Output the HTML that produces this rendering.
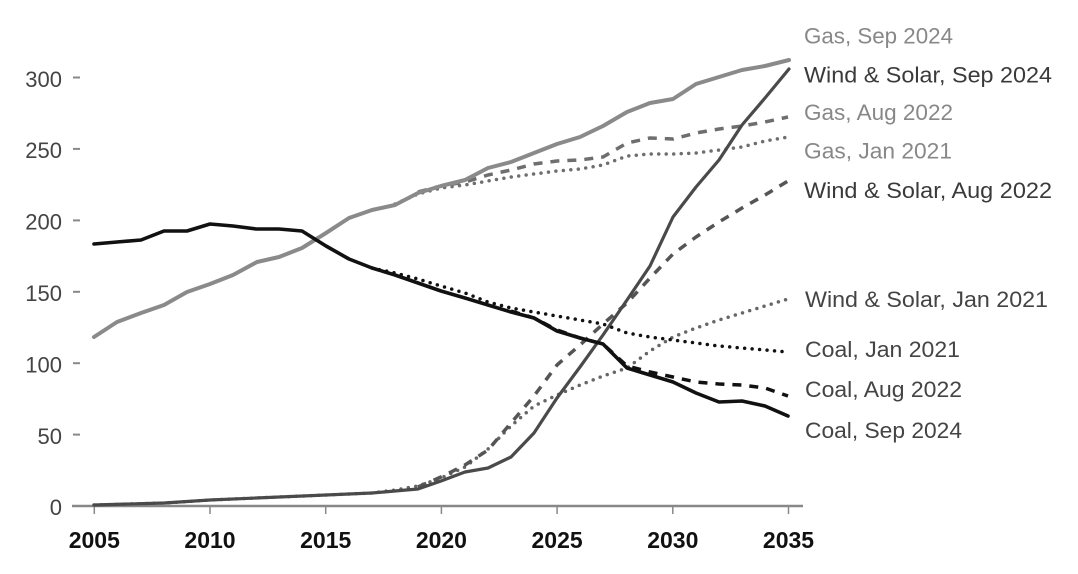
<!DOCTYPE html>
<html>
<head>
<meta charset="utf-8">
<style>
html,body{margin:0;padding:0;background:#fff;}
svg{display:block;}
text{font-family:"Liberation Sans",sans-serif;}
</style>
</head>
<body>
<svg width="1078" height="574" viewBox="0 0 1078 574" xmlns="http://www.w3.org/2000/svg">
<rect width="1078" height="574" fill="#fff"/>

<!-- y ticks and labels -->
<g stroke="#888" stroke-width="2">
<line x1="73" y1="77.5" x2="80" y2="77.5"/>
<line x1="73" y1="148.9" x2="80" y2="148.9"/>
<line x1="73" y1="220.4" x2="80" y2="220.4"/>
<line x1="73" y1="291.8" x2="80" y2="291.8"/>
<line x1="73" y1="363.2" x2="80" y2="363.2"/>
<line x1="73" y1="434.6" x2="80" y2="434.6"/>
</g>
<g fill="#444" font-size="22" text-anchor="end">
<text x="62" y="87">300</text>
<text x="62" y="158">250</text>
<text x="62" y="229.5">200</text>
<text x="62" y="301">150</text>
<text x="62" y="372.5">100</text>
<text x="62" y="444">50</text>
<text x="62" y="515">0</text>
</g>

<!-- x axis -->
<line x1="72" y1="506" x2="803" y2="506" stroke="#888" stroke-width="2.5"/>
<g stroke="#888" stroke-width="1.5">
<line x1="94.3" y1="506" x2="94.3" y2="514"/>
<line x1="210" y1="506" x2="210" y2="514"/>
<line x1="325.7" y1="506" x2="325.7" y2="514"/>
<line x1="441.4" y1="506" x2="441.4" y2="514"/>
<line x1="557.1" y1="506" x2="557.1" y2="514"/>
<line x1="672.8" y1="506" x2="672.8" y2="514"/>
<line x1="788.5" y1="506" x2="788.5" y2="514"/>
</g>
<g fill="#111" font-size="23" font-weight="bold" text-anchor="middle">
<text x="94.3" y="548">2005</text>
<text x="210" y="548">2010</text>
<text x="325.7" y="548">2015</text>
<text x="441.4" y="548">2020</text>
<text x="557.1" y="548">2025</text>
<text x="672.8" y="548">2030</text>
<text x="788.5" y="548">2035</text>
</g>

<g fill="none" stroke-linejoin="round">
<!-- Gas Jan 2021 dotted -->
<polyline stroke="#6e6e6e" stroke-width="3.5" stroke-linecap="round" stroke-dasharray="0 7.5"
points="395,204 418,194 441,188 465,185 488,181 511,177 534,174 557,171 580,169 603,165 627,156 650,154 673,154 696,153 719,150 742,147 765,141 788,137"/>
<!-- Gas Aug 2022 dashed -->
<polyline stroke="#6e6e6e" stroke-width="3.5" stroke-dasharray="9 8"
points="418,192 441,186 465,182 488,175 511,170 534,164 557,161 580,160 603,157 627,143 650,138 673,139 696,133 719,129 742,126 765,122 788,117"/>
<!-- Gas Sep 2024 solid -->
<polyline stroke="#8a8a8a" stroke-width="4" stroke-linecap="round"
points="94,337 117,322 141,313 164,305 187,292 210,284 233,275 257,262 279,257 302,248 326,233 349,218 372,210 395,205 418,193 441,186 465,180 488,168 511,162 534,153 557,144 580,137 603,126 627,112 650,103 673,99 696,84 719,77 742,70 765,66 789,60"/>

<!-- Wind & Solar Jan 2021 dotted -->
<polyline stroke="#666" stroke-width="3.5" stroke-linecap="round" stroke-dasharray="0 7.5"
points="94,505 164,503 210,500 256,498 326,495 372,493 395,490 418,486 441,478 465,467 488,449 511,426 534,406 557,395 580,385 603,376 627,368 650,351 673,337 696,328 719,320 742,313 765,306 788,299"/>
<!-- Wind & Solar Aug 2022 dashed -->
<polyline stroke="#555" stroke-width="3.5" stroke-dasharray="9 8"
points="418,487 441,477 465,465 488,450 511,423 534,396 557,365 580,345 603,324 627,303 650,278 673,254 696,237 719,222 742,208 765,195 788,181"/>
<!-- Wind & Solar Sep 2024 solid -->
<polyline stroke="#4a4a4a" stroke-width="3.2" stroke-linecap="round"
points="94,505 164,503 210,500 256,498 326,495 372,493 395,491 418,489 441,481 465,472 488,468 511,457 534,433 557,398 580,367 603,335 627,300 650,266 673,217 696,187 719,160 742,125 765,98 789,69"/>

<!-- Coal Jan 2021 dotted -->
<polyline stroke="#111" stroke-width="3.5" stroke-linecap="round" stroke-dasharray="0 7.5"
points="372,268 395,273 418,279 441,286 465,293 488,302 511,308 534,312 557,316 580,320 603,324 627,333 650,337 673,340 696,343 719,346 742,348 765,350 788,352"/>
<!-- Coal Aug 2022 dashed -->
<polyline stroke="#111" stroke-width="3.5" stroke-dasharray="9 8"
points="511,311 534,318 557,330 580,338 603,344 627,366 650,372 673,377 696,382 719,384 742,385 765,388 788,396"/>
<!-- Coal Sep 2024 solid -->
<polyline stroke="#111" stroke-width="3.6" stroke-linecap="round"
points="94,244 117,242 141,240 164,231 187,231 210,224 233,226 256,229 279,229 302,231 326,246 349,259 372,268 395,275 418,283 441,291 465,298 488,305 511,312 534,318 557,331 580,338 603,344 627,368 650,375 673,382 696,393 719,402 742,401 765,406 788,416"/>
</g>

<!-- series labels -->
<g font-size="22">
<text x="804" y="43.5" fill="#888" textLength="149" lengthAdjust="spacingAndGlyphs">Gas, Sep 2024</text>
<text x="804" y="82.5" fill="#3a3a3a" textLength="248" lengthAdjust="spacingAndGlyphs">Wind &amp; Solar, Sep 2024</text>
<text x="804" y="120" fill="#888" textLength="149" lengthAdjust="spacingAndGlyphs">Gas, Aug 2022</text>
<text x="804" y="158.3" fill="#888" textLength="148" lengthAdjust="spacingAndGlyphs">Gas, Jan 2021</text>
<text x="804" y="198" fill="#3a3a3a" textLength="248" lengthAdjust="spacingAndGlyphs">Wind &amp; Solar, Aug 2022</text>
<text x="805" y="307" fill="#444" textLength="243" lengthAdjust="spacingAndGlyphs">Wind &amp; Solar, Jan 2021</text>
<text x="805" y="357" fill="#444" textLength="155" lengthAdjust="spacingAndGlyphs">Coal, Jan 2021</text>
<text x="805" y="397" fill="#444" textLength="157" lengthAdjust="spacingAndGlyphs">Coal, Aug 2022</text>
<text x="805" y="438" fill="#444" textLength="157" lengthAdjust="spacingAndGlyphs">Coal, Sep 2024</text>
</g>
</svg>
</body>
</html>
